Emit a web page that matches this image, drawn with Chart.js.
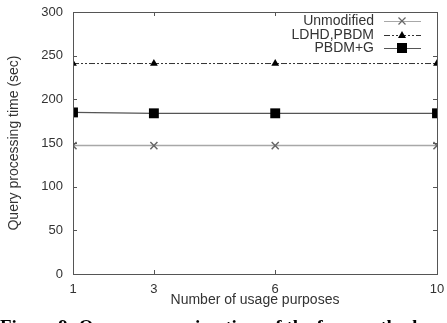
<!DOCTYPE html>
<html>
<head>
<meta charset="utf-8">
<script src="https://cdn.jsdelivr.net/npm/chart.js@4"></script>
<style>
  html, body { margin: 0; padding: 0; background: #fff; }
  #wrap { width: 447px; height: 323px; position: relative; }
</style>
</head>
<body>
<div id="wrap"><canvas id="myChart" width="447" height="323"></canvas></div>
<script>
// data
var purposes = [1, 3, 6, 10];
var unmodified = [147, 147, 147, 147];
var ldhdPbdm = [241, 241, 241, 241];
var pbdmG = [185, 184, 184, 184];
var yTicks = [0, 50, 100, 150, 200, 250, 300];
var seriesNames = ["Unmodified", "LDHD,PBDM", "PBDM+G"];

var FONT = "'Liberation Sans', Arial, sans-serif";

function pts(vals) {
  return purposes.map(function (x, i) { return { x: x, y: vals[i] }; });
}

// inward ticks, frame, legend and caption
var framePlugin = {
  id: "frame",
  afterDraw: function (chart) {
    var c = chart.ctx, a = chart.chartArea;
    var xs = chart.scales.x, ys = chart.scales.y;
    c.save();
    c.strokeStyle = "#555";
    c.lineWidth = 1;
    c.strokeRect(a.left + 0.5, a.top + 0.5, a.right - a.left, a.bottom - a.top);
    c.beginPath();
    yTicks.forEach(function (v) {
      var y = Math.round(ys.getPixelForValue(v)) + 0.5;
      c.moveTo(a.left, y); c.lineTo(a.left + 4, y);
      c.moveTo(a.right, y); c.lineTo(a.right - 4, y);
    });
    purposes.forEach(function (v) {
      var x = Math.round(xs.getPixelForValue(v)) + 0.5;
      c.moveTo(x, a.bottom); c.lineTo(x, a.bottom - 4);
      c.moveTo(x, a.top); c.lineTo(x, a.top + 4);
    });
    c.stroke();

    // legend
    c.font = "14px " + FONT;
    c.fillStyle = "#333";
    c.textAlign = "right";
    c.textBaseline = "middle";
    var ly = [21, 35, 48];
    chart.data.datasets.forEach(function (ds, i) {
      c.fillText(seriesNames[i], 374, ly[i]);
      c.strokeStyle = ds.borderColor;
      c.setLineDash(ds.borderDash || []);
      c.beginPath();
      c.moveTo(384, ly[i] + 0.5); c.lineTo(421, ly[i] + 0.5);
      c.stroke();
      c.setLineDash([]);
      var mx = 402, my = ly[i];
      c.fillStyle = ds.pointBackgroundColor;
      c.strokeStyle = ds.pointBorderColor;
      if (ds.pointStyle === "crossRot") {
        c.lineWidth = 1.2;
        c.beginPath();
        c.moveTo(mx - 3.5, my - 3.5); c.lineTo(mx + 3.5, my + 3.5);
        c.moveTo(mx - 3.5, my + 3.5); c.lineTo(mx + 3.5, my - 3.5);
        c.stroke();
        c.lineWidth = 1;
      } else if (ds.pointStyle === "triangle") {
        c.beginPath();
        c.moveTo(mx, my - 4); c.lineTo(mx + 4, my + 3); c.lineTo(mx - 4, my + 3);
        c.closePath(); c.fill();
      } else {
        c.fillRect(mx - 5, my - 5, 10, 10);
      }
      c.fillStyle = "#333";
    });

    // caption below the figure (cut at the page edge)
    c.font = "bold 19px 'Liberation Serif', 'Times New Roman', serif";
    c.textAlign = "left";
    c.textBaseline = "alphabetic";
    c.fillStyle = "#000";
    c.fillText("Figure 9: Query processing time of the four methods", 0, 333);
    c.restore();
  }
};

var ctx = document.getElementById("myChart");
var chart = new Chart(ctx, {
  type: "line",
  data: {
    datasets: [
      {
        label: seriesNames[0],
        data: pts(unmodified),
        borderColor: "#a8a8a8",
        borderWidth: 1.5,
        pointStyle: "crossRot",
        pointRadius: 5,
        pointBorderWidth: 1.5,
        pointBorderColor: "#666",
        pointBackgroundColor: "#666"
      },
      {
        label: seriesNames[1],
        data: pts(ldhdPbdm),
        borderColor: "#333",
        borderWidth: 1,
        borderDash: [6, 2, 2, 2, 2, 2],
        pointStyle: "triangle",
        pointRadius: 4.5,
        pointBorderWidth: 0,
        pointBorderColor: "#000",
        pointBackgroundColor: "#000"
      },
      {
        label: seriesNames[2],
        data: pts(pbdmG),
        borderColor: "#555",
        borderWidth: 1.2,
        pointStyle: "rect",
        pointRadius: 7,
        pointBorderWidth: 0,
        pointBorderColor: "#000",
        pointBackgroundColor: "#000"
      }
    ]
  },
  options: {
    responsive: false,
    animation: false,
    events: [],
    layout: { padding: { left: 0, right: 10, top: 12, bottom: 0 } },
    plugins: {
      legend: { display: false },
      tooltip: { enabled: false }
    },
    scales: {
      x: {
        type: "linear",
        min: 1,
        max: 10,
        afterBuildTicks: function (s) {
          s.ticks = purposes.map(function (v) { return { value: v }; });
        },
        afterFit: function (s) { s.height = 49; s.paddingLeft = 0; s.paddingRight = 0; },
        grid: { display: false, drawTicks: false },
        border: { display: false },
        ticks: { color: "#333", font: { family: FONT, size: 13 }, padding: 8, maxRotation: 0, autoSkip: false },
        title: { display: true, text: "Number of usage purposes", color: "#333", font: { family: FONT, size: 14 }, padding: { top: 2, bottom: 14 } }
      },
      y: {
        min: 0,
        max: 300,
        afterBuildTicks: function (s) {
          s.ticks = yTicks.map(function (v) { return { value: v }; });
        },
        afterFit: function (s) { s.width = 73; s.paddingTop = 0; s.paddingBottom = 0; },
        grid: { display: false, drawTicks: false },
        border: { display: false },
        ticks: { color: "#333", font: { family: FONT, size: 13 }, padding: 10 },
        title: { display: true, text: "Query processing time (sec)", color: "#333", font: { family: FONT, size: 14 }, padding: { bottom: 0, top: 6 } }
      }
    }
  },
  plugins: [framePlugin]
});
</script>
</body>
</html>
